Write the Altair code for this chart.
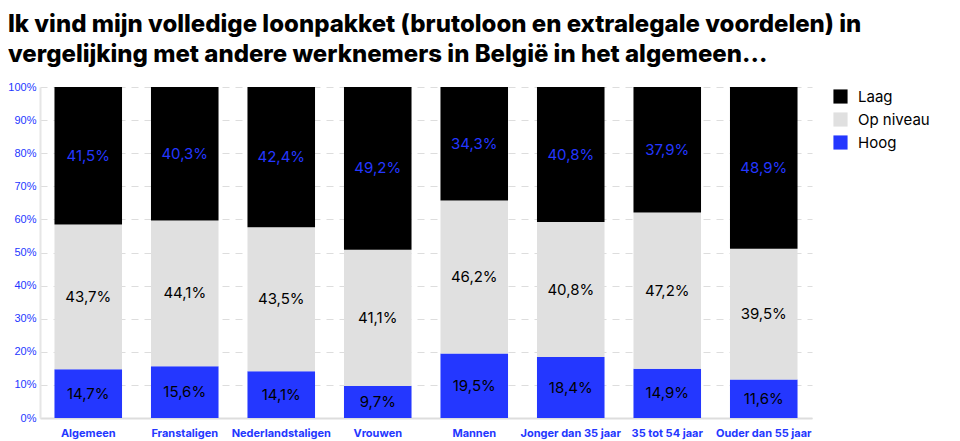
import altair as alt
import pandas as pd

categories = ["Algemeen", "Franstaligen", "Nederlandstaligen", "Vrouwen", "Mannen",
              "Jonger dan 35 jaar", "35 tot 54 jaar", "Ouder dan 55 jaar"]
hoog = [14.7, 15.6, 14.1, 9.7, 19.5, 18.4, 14.9, 11.6]
op_niveau = [43.7, 44.1, 43.5, 41.1, 46.2, 40.8, 47.2, 39.5]
laag = [41.5, 40.3, 42.4, 49.2, 34.3, 40.8, 37.9, 48.9]
y_ticks = [0, 0.1, 0.2, 0.3, 0.4, 0.5, 0.6, 0.7, 0.8, 0.9, 1.0]

series = ["Laag", "Op niveau", "Hoog"]
colors = ["#000000", "#e0e0e0", "#2437ff"]
BLUE = "#2437ff"

rows = []
for i, c in enumerate(categories):
    for name, vals, order in [("Hoog", hoog, 0), ("Op niveau", op_niveau, 1), ("Laag", laag, 2)]:
        v = vals[i]
        rows.append({"cat": c, "serie": name, "value": v, "ord": order,
                     "label": f"{v:.1f}".replace(".", ",") + "%"})
df = pd.DataFrame(rows)

base = alt.Chart(df).transform_stack(
    stack="value", groupby=["cat"], as_=["y0", "y1"],
    sort=[alt.SortField("ord", order="ascending")], offset="normalize"
).transform_calculate(mid="(datum.y0 + datum.y1) / 2")

xaxis = alt.Axis(labelAngle=0, labelColor=BLUE, labelFont="Inter", labelFontWeight="bold",
                 labelFontSize=11, ticks=False, labelPadding=9, domainColor="#dddddd",
                 domainWidth=2)
yaxis = alt.Axis(format="%", values=y_ticks, labelColor=BLUE,
                 labelFont="Liberation Sans", labelFontSize=11, labelPadding=4,
                 grid=True, gridColor="#dddddd", gridDash=[7, 6], gridWidth=1,
                 ticks=False, labelOverlap=False,
                 domainColor="#e6e6e6", domainWidth=2)
yscale = alt.Scale(domain=[0, 1])

bars = base.mark_bar().encode(
    x=alt.X("cat:N", sort=categories, title=None,
            scale=alt.Scale(paddingInner=0.3, paddingOuter=0.15), axis=xaxis),
    y=alt.Y("y0:Q", title=None, scale=yscale, axis=yaxis),
    y2="y1:Q",
    color=alt.Color("serie:N", scale=alt.Scale(domain=series, range=colors),
                    legend=alt.Legend(title=None, orient="none", legendX=793, legendY=2,
                                      symbolType="square", symbolSize=200, symbolStrokeWidth=0,
                                      labelFont="Inter", labelFontSize=15, labelColor="#000000",
                                      rowPadding=7, labelOffset=10)),
)

text = base.mark_text(font="Inter", fontSize=15).encode(
    x=alt.X("cat:N", sort=categories, title=None, axis=xaxis),
    y=alt.Y("mid:Q", title=None, scale=yscale, axis=yaxis),
    text="label:N",
    color=alt.condition(alt.datum.serie == "Laag", alt.value(BLUE), alt.value("#000000")),
)

chart = alt.layer(bars, text).properties(
    width=772, height=331,
    autosize=alt.AutoSizeParams(type="none"),
    padding={"left": 32, "top": 79, "right": 140, "bottom": 22},
    title=alt.TitleParams(
        ["Ik vind mijn volledige loonpakket (brutoloon en extralegale voordelen) in",
         "vergelijking met andere werknemers in België in het algemeen..."],
        anchor="start", frame="group", dx=-32, offset=14, font="Inter", fontSize=24,
        fontWeight=800, color="#000000", lineHeight=30),
).configure_view(stroke=None)

chart.save("out.html", embed_options={"renderer": "svg", "actions": False})
